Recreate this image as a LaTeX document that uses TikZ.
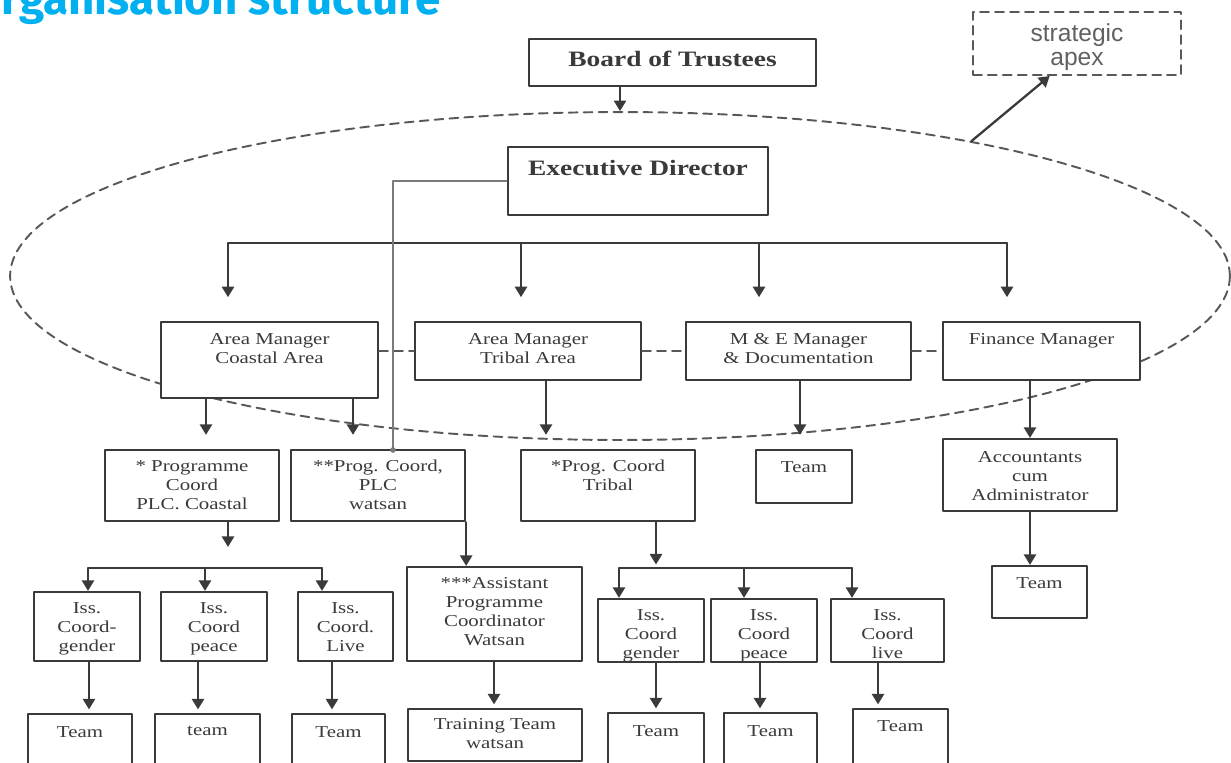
\documentclass[tikz,border=0pt]{standalone}
\usepackage{fontspec}
\setmainfont{Liberation Serif}
\newfontfamily\boxfont[FakeStretch=1.25]{Liberation Serif}
\newfontfamily\apexfont{Liberation Sans}
\newfontfamily\titlefont{Fira Sans}
\usetikzlibrary{arrows.meta,calc,shapes.geometric}
\definecolor{ink}{HTML}{3A3A3A}
\definecolor{side}{HTML}{7A7A7A}
\definecolor{titlecyan}{HTML}{00B0F0}

\tikzset{
  unit/.style={draw=ink, fill=white, line width=1.3pt, inner sep=0pt},
  unittext/.style={font=\boxfont\fontsize{9.5}{10.8}\selectfont, text=ink, align=center, inner sep=0pt},
  flow/.style={draw=ink, line width=1.1pt, -{Triangle[width=7pt,length=6pt]}},
  wire/.style={draw=ink, line width=1.1pt},
  rim/.style={draw=ink!85, line width=1.1pt, dash pattern=on 5pt off 3.5pt},
  titletext/.style={font=\titlefont\bfseries\fontsize{26}{26}\selectfont, text=titlecyan, inner sep=0pt},
}

% box from its pixel corners, text hung from the top edge
\newcommand{\orgbox}[7][11]{%
  \node[unit, minimum width={(#5-#3)*0.02cm}, minimum height={(#6-#4)*0.02cm}]
    (#2) at ({(#3+#5)/2},{(#4+#6)/2}) {};
  \node[unittext, anchor=north] (#2-t) at ([yshift={-#1*0.02cm}]#2.north) {#7};}

\begin{document}
\begin{tikzpicture}[x=0.02cm,y=-0.02cm,line cap=round,line join=round]
  \useasboundingbox (0,0) rectangle (1231,762);
  \clip (0,0) rectangle (1231,762);

  % Slide title, cut by the top edge.
  \node[titletext, anchor=base east] (title) at (441,14) {Organisation structure};

  % Dashed ring round the strategic apex.
  \node[rim, ellipse, minimum width=24.4cm, minimum height=6.56cm, inner sep=0pt] (core) at (620,276) {};

  \node[unit, rim, minimum width=4.16cm, minimum height=1.26cm] (apex) at (1077,43.5) {};
  \node[font=\apexfont\fontsize{14}{14}\selectfont, text=ink!80, align=center, inner sep=0pt, anchor=north]
    (apex-t) at ([yshift=-0.24cm]apex.north) {strategic\\apex};

  % Top of the tree.
  \orgbox[13]{bot}{529}{39}{816}{86}{\bfseries\fontsize{12.5}{15}\selectfont Board of Trustees}
  \orgbox[14]{ed}{508}{147}{768}{215}{\bfseries\fontsize{12.5}{15}\selectfont Executive Director}

  % Managers.
  \orgbox[12]{amc}{161}{322}{378}{398}{Area Manager\\Coastal Area}
  \orgbox[12]{amt}{415}{322}{641}{380}{Area Manager\\Tribal Area}
  \orgbox[12]{mem}{686}{322}{911}{380}{M \& E Manager\\\& Documentation}
  \orgbox[12]{fin}{943}{322}{1140}{380}{Finance Manager}

  % Coordinators.
  \orgbox[11]{pcc}{105}{450}{279}{521}{* Programme\\Coord\\PLC. Coastal}
  \orgbox[11]{pcw}{291}{450}{465}{521}{**Prog. Coord,\\PLC\\watsan}
  \orgbox[11]{pct}{521}{450}{695}{521}{*Prog. Coord\\Tribal}
  \orgbox[12]{met}{756}{450}{852}{503}{Team}
  \orgbox[13]{acc}{943}{439}{1117}{511}{Accountants\\cum\\Administrator}
  \orgbox[12]{act}{992}{566}{1087}{618}{Team}
  \orgbox[11]{apw}{407}{567}{582}{661}{***Assistant\\Programme\\Coordinator\\Watsan}

  % Issue coordinators and teams.
  \orgbox[11]{ic1}{34}{592}{140}{661}{Iss.\\Coord-\\gender}
  \orgbox[11]{ic2}{161}{592}{267}{661}{Iss.\\Coord\\peace}
  \orgbox[11]{ic3}{298}{592}{393}{661}{Iss.\\Coord.\\Live}
  \orgbox[11]{it1}{598}{599}{704}{662}{Iss.\\Coord\\gender}
  \orgbox[11]{it2}{711}{599}{817}{662}{Iss.\\Coord\\peace}
  \orgbox[11]{it3}{831}{599}{944}{662}{Iss.\\Coord\\live}
  \orgbox[13]{tc1}{28}{714}{132}{780}{Team}
  \orgbox[13]{tc2}{155}{714}{260}{780}{team}
  \orgbox[13]{tc3}{292}{714}{385}{780}{Team}
  \orgbox[10]{ttw}{408}{709}{582}{761}{Training Team\\watsan}
  \orgbox[13]{tt1}{608}{713}{704}{780}{Team}
  \orgbox[13]{tt2}{724}{713}{817}{780}{Team}
  \orgbox[12]{tt3}{853}{709}{948}{780}{Team}

  % Board into the ring, ring out to the apex label.
  \draw[flow] (core.north |- bot.south) -- (core.north);
  \draw[flow, line width=1.3pt] (core.21) -- ($(apex.south west)!0.37!(apex.south east)$);

  % Director's bus to the managers.
  \coordinate (bus) at (228,243);
  \draw[wire] (bus) -- (1007,243);
  \foreach \x/\n in {228/amc,521/amt,759/mem,1007/fin}{
    \coordinate (col-\n) at (\x,0);
    \draw[flow, shorten >=13.5pt] (col-\n |- bus) -- (col-\n |- \n.north);
  }
  \draw[rim] (amt.west -| amc.east) -- (amt.west);
  \draw[rim] (mem.west -| amt.east) -- (mem.west);
  \draw[rim] (fin.west -| mem.east) -- (fin.west);

  % Director's direct line to the watsan coordinator.
  \coordinate (tap) at (393,450);
  \draw[side, line width=0.9pt] (ed.west) -| (tap);
  \fill[side] (tap) circle (1.6pt);

  % Managers down to coordinators.
  \foreach \x/\a/\b in {206/amc/pcc,353/amc/pcw,546/amt/pct,800/mem/met}{
    \coordinate (col) at (\x,0);
    \draw[flow, shorten >=8pt] (col |- \a.south) -- (col |- \b.north);
  }
  \draw[flow] (acc.north |- fin.south) -- (acc.north);
  \draw[flow] (acc.south) -- (acc.south |- act.north);
  \draw[flow] (pcw.south east) -- (pcw.south east |- apw.north);

  % Coastal issue bus.
  \coordinate (hubc) at (228,568);
  \draw[flow, shorten >=12pt] (hubc |- pcc.south) -- (hubc);
  \draw[wire] (88,568) -- (322,568);
  \foreach \x/\n in {88/ic1,205/ic2,322/ic3}{
    \coordinate (col-\n) at (\x,568);
    \draw[flow] (col-\n) -- (col-\n |- \n.north);
  }

  % Tribal issue bus.
  \coordinate (hubt) at (656,568);
  \draw[flow, shorten >=2pt] (hubt |- pct.south) -- (hubt);
  \draw[wire] (619,568) -- (852,568);
  \foreach \x/\n in {619/it1,744/it2,852/it3}{
    \coordinate (col-\n) at (\x,568);
    \draw[flow] (col-\n) -- (col-\n |- \n.north);
  }

  % Down to the teams.
  \foreach \x/\a/\b in {89/ic1/tc1,198/ic2/tc2,332/ic3/tc3,494/apw/ttw,656/it1/tt1,760/it2/tt2,878/it3/tt3}{
    \coordinate (col) at (\x,0);
    \draw[flow, shorten >=2pt] (col |- \a.south) -- (col |- \b.north);
  }
\end{tikzpicture}
\end{document}
